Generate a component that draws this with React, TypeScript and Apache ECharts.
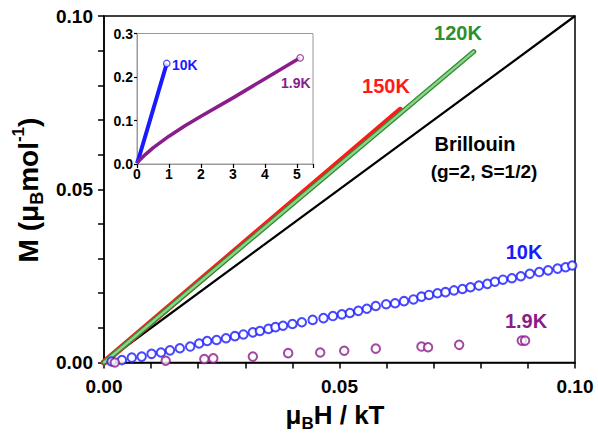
import React, { useEffect, useRef } from "react";
import * as echarts from "echarts";

// Main panel: reduced field μB·H/kT vs magnetisation M (μB mol⁻¹)
const brillouin: [number, number][] = [[0, 0], [0.1, 0.1]];
const k150: [number, number][] = [[0, 0], [0.0629, 0.0728]];
const k120: [number, number][] = [[0, 0], [0.0785, 0.0897]];
const k10: [number, number][] = [
  [0.0016, 0.0003], [0.0038, 0.0007], [0.0059, 0.0014], [0.008, 0.0017], [0.0101, 0.0025],
  [0.0121, 0.0029], [0.014, 0.0035], [0.0161, 0.0041], [0.0183, 0.0046], [0.0202, 0.0055],
  [0.0219, 0.0062], [0.0239, 0.0065], [0.0259, 0.007], [0.0278, 0.0076], [0.0296, 0.0081],
  [0.0316, 0.0087], [0.0331, 0.0091], [0.0349, 0.0097], [0.0364, 0.0102], [0.038, 0.0106],
  [0.04, 0.0111], [0.042, 0.0116], [0.0443, 0.0123], [0.0466, 0.0128], [0.0486, 0.0134],
  [0.0505, 0.0139], [0.0522, 0.0143], [0.054, 0.0149], [0.0558, 0.0155], [0.0577, 0.0163],
  [0.0599, 0.0168], [0.0618, 0.0171], [0.0637, 0.0177], [0.0657, 0.0182], [0.0674, 0.019],
  [0.069, 0.0195], [0.0708, 0.02], [0.0725, 0.0203], [0.0743, 0.0208], [0.0761, 0.0212],
  [0.0778, 0.0217], [0.0796, 0.0222], [0.0814, 0.0227], [0.083, 0.0233], [0.0847, 0.0239],
  [0.0866, 0.0243], [0.0885, 0.0249], [0.0904, 0.0256], [0.0924, 0.0261], [0.0943, 0.0266],
  [0.0963, 0.0271], [0.098, 0.0275], [0.0994, 0.028],
];
const k19: [number, number][] = [
  [0.0023, 0.0], [0.0131, 0.0005], [0.0213, 0.001], [0.0232, 0.0012], [0.0316, 0.0017],
  [0.0391, 0.0027], [0.0459, 0.0029], [0.051, 0.0034], [0.0577, 0.004], [0.0674, 0.0046],
  [0.0688, 0.0044], [0.0754, 0.0051], [0.0887, 0.0063], [0.0894, 0.0063],
];

// Inset: full field range
const inset10: [number, number][] = [[0, 0.002], [0.05, 0.012], [0.93, 0.231]];
const inset19: [number, number][] = [
  [0, 0.003], [0.25, 0.021], [0.5, 0.037], [1, 0.064], [1.5, 0.088], [2, 0.11],
  [3, 0.152], [4, 0.196], [5.1, 0.244],
];

const FONT = "Liberation Sans, Arial, sans-serif";
const BLUE = "#1a1aff";
const RED = "#ff1a1a";
const GREEN_DARK = "#2f8f2f";
const GREEN_LIGHT = "#8fd18f";
const PURPLE = "#8b1c8b";

const label = (
  text: string,
  x: number,
  y: number,
  color: string,
  size = 20,
  align: "left" | "center" | "right" = "center"
) => ({
  type: "text",
  x,
  y,
  z: 100,
  style: {
    text,
    fill: color,
    font: `bold ${size}px ${FONT}`,
    align,
    verticalAlign: "middle",
  },
});

export default function App() {
  const ref = useRef<HTMLDivElement>(null);

  useEffect(() => {
    if (!ref.current) return;
    const chart = echarts.init(ref.current, undefined, { renderer: "svg" });

    const mainTicks = {
      axisLine: { lineStyle: { color: "#000", width: 1.5 } },
      axisTick: { inside: false, length: 6, lineStyle: { color: "#000", width: 1.5 } },
      splitLine: { show: false },
    };

    chart.setOption({
      animation: false,
      backgroundColor: "#fff",
      grid: [
        {
          left: 104,
          right: 23,
          top: 16,
          bottom: 74.5,
          show: true,
          borderColor: "#000",
          borderWidth: 1.5,
          backgroundColor: "transparent",
        },
        {
          left: 137,
          top: 33.5,
          width: 176,
          height: 130.5,
          show: true,
          borderColor: "#9a9a9a",
          borderWidth: 1,
          backgroundColor: "#fff",
          z: 5,
        },
      ],
      xAxis: [
        {
          gridIndex: 0,
          type: "value",
          min: 0,
          max: 0.1,
          interval: 0.01,
          ...mainTicks,
          axisLabel: {
            margin: 14,
            color: "#000",
            fontFamily: FONT,
            fontWeight: "bold",
            fontSize: 19,
            formatter: (v: number) => (Math.round(v * 100) % 5 === 0 ? v.toFixed(2) : ""),
          },
        },
        {
          gridIndex: 1,
          type: "value",
          min: 0,
          max: 5.5,
          interval: 1,
          z: 6,
          axisLine: { lineStyle: { color: "#9a9a9a", width: 1 } },
          axisTick: { inside: false, length: 4, lineStyle: { color: "#000", width: 1.2 } },
          splitLine: { show: false },
          axisLabel: {
            margin: 3,
            color: "#000",
            fontFamily: FONT,
            fontWeight: "bold",
            fontSize: 14,
            formatter: (v: number) => (v <= 5 ? String(Math.round(v)) : ""),
          },
        },
      ],
      yAxis: [
        {
          gridIndex: 0,
          type: "value",
          min: 0,
          max: 0.1,
          interval: 0.01,
          ...mainTicks,
          axisLabel: {
            margin: 11,
            color: "#000",
            fontFamily: FONT,
            fontWeight: "bold",
            fontSize: 19,
            formatter: (v: number) => (Math.round(v * 100) % 5 === 0 ? v.toFixed(2) : ""),
          },
        },
        {
          gridIndex: 1,
          type: "value",
          min: 0,
          max: 0.3,
          interval: 0.1,
          z: 6,
          axisLine: { lineStyle: { color: "#9a9a9a", width: 1 } },
          axisTick: { inside: false, length: 3, lineStyle: { color: "#000", width: 1.2 } },
          splitLine: { show: false },
          axisLabel: {
            margin: 4,
            color: "#000",
            fontFamily: FONT,
            fontWeight: "bold",
            fontSize: 14,
            formatter: (v: number) => v.toFixed(1),
          },
        },
      ],
      series: [
        {
          name: "Brillouin",
          type: "line",
          xAxisIndex: 0,
          yAxisIndex: 0,
          data: brillouin,
          showSymbol: false,
          lineStyle: { color: "#000", width: 2.2 },
          z: 2,
        },
        {
          name: "150K",
          type: "line",
          xAxisIndex: 0,
          yAxisIndex: 0,
          data: k150,
          showSymbol: false,
          lineStyle: { color: RED, width: 6.5, cap: "round" },
          z: 3,
        },
        {
          name: "120K",
          type: "line",
          xAxisIndex: 0,
          yAxisIndex: 0,
          data: k120,
          showSymbol: false,
          lineStyle: { color: GREEN_DARK, width: 5, cap: "round" },
          z: 4,
        },
        {
          name: "120K fill",
          type: "line",
          xAxisIndex: 0,
          yAxisIndex: 0,
          data: k120,
          showSymbol: false,
          lineStyle: { color: GREEN_LIGHT, width: 2.4, cap: "round" },
          z: 4,
        },
        {
          name: "10K",
          type: "scatter",
          xAxisIndex: 0,
          yAxisIndex: 0,
          data: k10,
          symbol: "emptyCircle",
          symbolSize: 8.5,
          itemStyle: { color: BLUE, borderColor: BLUE, borderWidth: 1.6 },
          z: 5,
        },
        {
          name: "1.9K",
          type: "scatter",
          xAxisIndex: 0,
          yAxisIndex: 0,
          data: k19,
          symbol: "emptyCircle",
          symbolSize: 8.5,
          itemStyle: { color: PURPLE, borderColor: PURPLE, borderWidth: 1.6 },
          z: 5,
        },
        {
          name: "inset 10K",
          type: "line",
          xAxisIndex: 1,
          yAxisIndex: 1,
          data: inset10,
          showSymbol: false,
          lineStyle: { color: BLUE, width: 4 },
          z: 7,
        },
        {
          name: "inset 1.9K",
          type: "line",
          xAxisIndex: 1,
          yAxisIndex: 1,
          data: inset19,
          showSymbol: false,
          lineStyle: { color: PURPLE, width: 3.5, join: "round" },
          z: 7,
        },
        {
          name: "inset ends",
          type: "scatter",
          xAxisIndex: 1,
          yAxisIndex: 1,
          data: [
            { value: inset10[inset10.length - 1], itemStyle: { borderColor: BLUE } },
            { value: inset19[inset19.length - 1], itemStyle: { borderColor: PURPLE } },
          ],
          symbol: "circle",
          symbolSize: 6.5,
          itemStyle: { color: "#fff", borderWidth: 1.2 },
          z: 8,
        },
      ],
      graphic: [
        label("120K", 458, 33, GREEN_DARK),
        label("150K", 386, 86, RED),
        label("Brillouin", 475, 144, "#000"),
        label("(g=2, S=1/2)", 484, 171, "#000", 19),
        label("10K", 524, 252, BLUE),
        label("1.9K", 526, 321, PURPLE),
        label("10K", 172, 65, BLUE, 14, "left"),
        label("1.9K", 281, 83, PURPLE, 14, "left"),
        {
          type: "text",
          x: 28,
          y: 190,
          rotation: Math.PI / 2,
          z: 100,
          style: {
            text: "{a|M (μ}{s|B}{a|mol}{p|-1}{a|)}",
            align: "center",
            verticalAlign: "middle",
            fill: "#000",
            rich: {
              a: { font: `bold 28px ${FONT}`, fill: "#000", lineHeight: 36, verticalAlign: "middle" },
              s: { font: `bold 18px ${FONT}`, fill: "#000", verticalAlign: "bottom" },
              p: { font: `bold 17px ${FONT}`, fill: "#000", verticalAlign: "top" },
            },
          },
        },
        {
          type: "text",
          x: 335,
          y: 415,
          z: 100,
          style: {
            text: "{a|μ}{s|B}{a|H / kT}",
            align: "center",
            verticalAlign: "middle",
            fill: "#000",
            rich: {
              a: { font: `bold 26px ${FONT}`, fill: "#000", lineHeight: 34, verticalAlign: "middle" },
              s: { font: `bold 17px ${FONT}`, fill: "#000", verticalAlign: "bottom" },
            },
          },
        },
      ],
    });

    return () => chart.dispose();
  }, []);

  return <div ref={ref} style={{ width: 598, height: 437, position: "absolute", left: 0, top: 0 }} />;
}
